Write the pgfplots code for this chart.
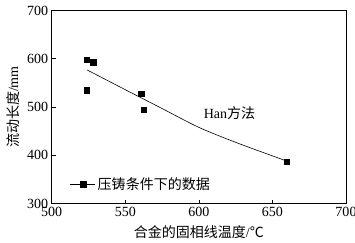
\documentclass[border=0pt]{standalone}
\usepackage{pgfplots}
\pgfplotsset{compat=1.18}
\usepackage{fontspec}
\setmainfont{Liberation Serif}
\newfontfamily\cjk{Noto Sans CJK SC}
\begin{document}
\begin{tikzpicture}
\begin{axis}[
  name=ax,
  width=294pt, height=193pt, scale only axis,
  xmin=500, xmax=700, ymin=300, ymax=700,
  xtick={500,550,600,650,700}, ytick={300,400,500,600,700},
  tick align=inside, xtick pos=bottom, ytick pos=left,
  major tick length=4pt,
  axis line style={line width=0.9pt},
  tick style={line width=0.6pt, black},
  /pgf/number format/assume math mode=true,
  /pgf/number format/1000 sep={},
  tick label style={font=\fontsize{14}{14}\selectfont},
  xlabel={{\cjk 合金的固相线温度}/{\cjk ℃}},
  ylabel={{\cjk 流动长度}/mm},
  label style={font=\fontsize{14}{14}\selectfont},
  xlabel style={yshift=-2pt},
  ylabel style={yshift=1pt},
  legend style={draw=none, fill=none, at={(axis cs:512,340)}, anchor=west,
    font=\fontsize{14}{14}\selectfont, inner sep=0pt},
  legend cell align=left,
  legend image code/.code={\draw[black, line width=0.5pt] (0cm,0cm) -- (0.9cm,0cm);
     \fill[black] (0.47cm-2.6pt,-2.6pt) rectangle (0.47cm+2.6pt,2.6pt);},
]
\addplot[only marks, mark=square*, mark size=2.7pt, black, forget plot] coordinates {
(523.6,598) (528.2,593) (523.6,535) (560.9,528) (562.5,495) (659.7,387)};
\addplot[black, line width=0.6pt, smooth, mark=none] coordinates {
(524,577) (550,536) (575,497) (600,458) (625,427) (650,399) (660,388)};
\addlegendentry{\cjk 压铸条件下的数据}
\node[anchor=west, font=\fontsize{14}{14}\selectfont] at (axis cs:601,487) {Han{\cjk 方法}};
\end{axis}
\pgfresetboundingbox
\path ([shift={(-51.7pt,-39pt)}]ax.south west) rectangle ([shift={(9pt,10.5pt)}]ax.north east);
\end{tikzpicture}
\end{document}
